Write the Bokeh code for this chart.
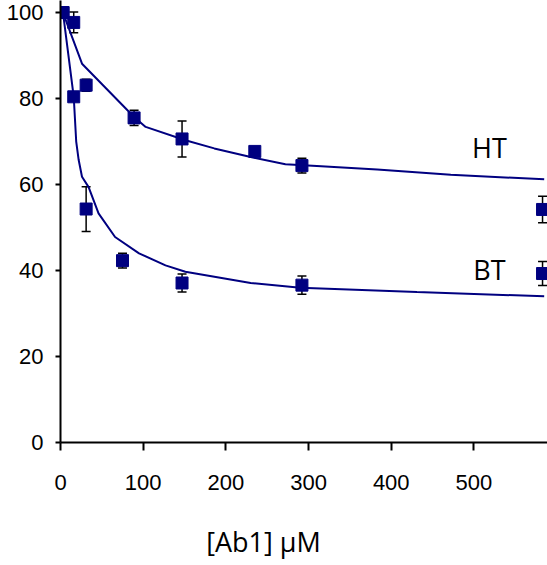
from bokeh.plotting import figure
from bokeh.layouts import column
from bokeh.models import Range1d, ColumnDataSource, Whisker, Label, TeeHead
from bokeh.embed import file_html
from bokeh.resources import INLINE

# measured data (x in uM, y in %)
ht_x = [3, 16, 31, 89, 147, 235, 292, 583]
ht_y = [100, 97.7, 83.1, 75.5, 70.6, 67.7, 64.4, 54.2]
ht_err = [0, 2.4, 1.4, 1.8, 4.2, 0, 1.7, 3.1]

bt_x = [3, 16, 31, 75, 147, 292, 583]
bt_y = [100, 80.4, 54.3, 42.3, 37.1, 36.6, 39.3]
bt_err = [0, 0, 5.2, 1.7, 2.1, 2.1, 2.8]

# fitted curves
ht_fit_x = [3, 26, 89, 103, 151, 186, 230, 272, 310, 383, 472, 585]
ht_fit_y = [100, 88.1, 75.7, 73.4, 70.3, 68.4, 66.4, 64.7, 64.3, 63.5, 62.3, 61.2]

bt_fit_x = [3, 16, 19, 22, 26, 34, 46, 66, 95, 127, 151, 230, 290, 431, 585]
bt_fit_y = [100, 80.4, 70.0, 65.7, 61.8, 59.4, 53.3, 47.8, 44.0, 41.2, 39.7, 37.1, 36.0, 35.0, 34.0]

x_ticks = [0, 100, 200, 300, 400, 500]
y_ticks = [0, 20, 40, 60, 80, 100]

series_labels = ["HT", "BT"]
x_title = "[Ab1] µM"

NAVY = "#000080"

p = figure(width=547, height=505, output_backend="svg", toolbar_location=None,
           x_range=Range1d(0, 589), y_range=Range1d(0, 102.8),
           min_border_left=60, min_border_right=0, min_border_top=0,
           min_border_bottom=63)
p.outline_line_color = None
p.xgrid.visible = False
p.ygrid.visible = False

for ax in (p.xaxis[0], p.yaxis[0]):
    ax.axis_line_color = "black"
    ax.axis_line_width = 2
    ax.major_tick_line_color = "black"
    ax.major_tick_line_width = 2
    ax.minor_tick_line_color = None
    ax.major_tick_in = 0
    ax.major_label_text_font = "Liberation Sans"
    ax.major_label_text_font_size = "22px"
    ax.major_label_text_color = "black"

p.xaxis.ticker = x_ticks
p.yaxis.ticker = y_ticks
p.xaxis.major_tick_out = 8
p.xaxis.major_label_standoff = 24
p.yaxis.major_tick_out = 5
p.yaxis.major_label_standoff = 12

# curves
p.line(ht_fit_x, ht_fit_y, line_color=NAVY, line_width=2)
p.line(bt_fit_x, bt_fit_y, line_color=NAVY, line_width=2)

# error bars
for xs, ys, es in ((ht_x, ht_y, ht_err), (bt_x, bt_y, bt_err)):
    bx = [x for x, e in zip(xs, es) if e > 0]
    lo = [y - e for y, e in zip(ys, es) if e > 0]
    hi = [y + e for y, e in zip(ys, es) if e > 0]
    src = ColumnDataSource(dict(base=bx, lower=lo, upper=hi))
    w = Whisker(source=src, base="base", lower="lower", upper="upper",
                line_color="black", line_width=1.5,
                upper_head=TeeHead(size=9, line_color="black", line_width=1.5),
                lower_head=TeeHead(size=9, line_color="black", line_width=1.5))
    p.add_layout(w)

# markers
p.scatter(ht_x, ht_y, marker="square", size=12, fill_color=NAVY, line_color=NAVY)
p.scatter(bt_x, bt_y, marker="square", size=12, fill_color=NAVY, line_color=NAVY)

# series labels
for txt, ly in zip(series_labels, [68.6, 40.35]):
    p.add_layout(Label(x=518.7, y=ly, text=txt, text_align="center",
                       text_baseline="middle", text_font="Open Sans",
                       text_font_size="27px", text_color="black"))

# x-axis title strip underneath the chart
q = figure(width=547, height=60, output_backend="svg", toolbar_location=None,
           x_range=Range1d(0, 547), y_range=Range1d(0, 60),
           min_border_left=0, min_border_right=0, min_border_top=0,
           min_border_bottom=0, x_axis_type=None, y_axis_type=None)
q.outline_line_color = None
q.xgrid.visible = False
q.ygrid.visible = False
q.add_layout(Label(x=228, y=24.5, text=x_title, text_align="center",
                   text_baseline="middle", text_font="Open Sans",
                   text_font_size="27px", text_color="black"))

layout = column(p, q, spacing=0)

open("out.html", "w").write(file_html(layout, INLINE))
